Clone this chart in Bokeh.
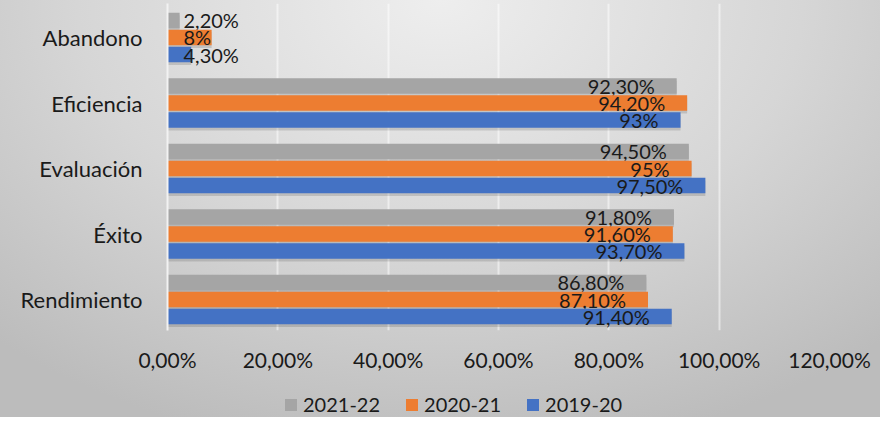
from bokeh.plotting import figure
from bokeh.layouts import column
from bokeh.models import ColumnDataSource, Range1d, FixedTicker, Legend, LegendItem
from bokeh.transform import dodge
from bokeh.core.properties import value
from bokeh.embed import file_html
from bokeh.resources import INLINE

# ---- data (bottom to top) ----
categories = ["Rendimiento", "Éxito", "Evaluación", "Eficiencia", "Abandono"]
v2019_20 = [91.4, 93.7, 97.5, 93.0, 4.3]
v2020_21 = [87.1, 91.6, 95.0, 94.2, 8.0]
v2021_22 = [86.8, 91.8, 94.5, 92.3, 2.2]
l2019_20 = ["91,40%", "93,70%", "97,50%", "93%", "4,30%"]
l2020_21 = ["87,10%", "91,60%", "95%", "94,20%", "8%"]
l2021_22 = ["86,80%", "91,80%", "94,50%", "92,30%", "2,20%"]
series_names = ["2021-22", "2020-21", "2019-20"]
series_colors = ["#a5a5a5", "#ed7d31", "#4472c4"]
x_ticks = [0, 20, 40, 60, 80, 100, 120]
x_tick_labels = ["0,00%", "20,00%", "40,00%", "60,00%", "80,00%", "100,00%", "120,00%"]

FONT = "Lato"
GRADIENT = "radial-gradient(ellipse 75% 110% at 50% 0%, #eeeeee 0%, #d6d6d6 55%, #bcbcbc 100%)"

p = figure(width=880, height=375, x_range=Range1d(0, 120), y_range=Range1d(-0.473, 4.519),
           output_backend="svg", toolbar_location=None,
           min_border_left=167, min_border_right=51, min_border_top=3, min_border_bottom=45)
p.background_fill_alpha = 0
p.border_fill_alpha = 0
p.outline_line_color = None

pos = list(range(len(categories)))
offsets = [0.26, 0.0, -0.26]
series = [
    (v2021_22, l2021_22),
    (v2020_21, l2020_21),
    (v2019_20, l2019_20),
]

for (vals, labs), col, off in zip(series, series_colors, offsets):
    src = ColumnDataSource(dict(pos=pos, val=vals, lbl=labs))
    p.hbar(y=dodge("pos", off - 0.04, range=p.y_range), right="val", left=0, height=0.237,
           source=src, fill_color="black", fill_alpha=0.13, line_color=None)
    p.hbar(y=dodge("pos", off, range=p.y_range), right="val", left=0, height=0.237,
           source=src, fill_color=col, line_color=None)
    big = [i for i, v in enumerate(vals) if v >= 20]
    small = [i for i, v in enumerate(vals) if v < 20]
    sb = ColumnDataSource(dict(pos=[pos[i] for i in big], val=[vals[i] for i in big], lbl=[labs[i] for i in big]))
    ss = ColumnDataSource(dict(pos=[pos[i] for i in small], val=[0 for i in small], lbl=[labs[i] for i in small]))
    p.text(x="val", y=dodge("pos", off, range=p.y_range), text="lbl", source=sb,
           text_align="right", text_baseline="middle", x_offset=-22,
           text_font=value(FONT), text_font_size="20px", text_color="#1a1a1a")
    p.text(x="val", y=dodge("pos", off, range=p.y_range), text="lbl", source=ss,
           text_align="left", text_baseline="middle", x_offset=16,
           text_font=value(FONT), text_font_size="20px", text_color="#1a1a1a")

# axes
p.yaxis.ticker = FixedTicker(ticks=pos)
p.yaxis.major_label_overrides = {i: c for i, c in zip(pos, categories)}
p.yaxis.major_tick_line_color = None
p.yaxis.minor_tick_line_color = None
p.yaxis.axis_line_color = "#f2f2f2"
p.yaxis.axis_line_width = 2
p.yaxis.major_label_standoff = 19
p.yaxis.major_label_text_font = FONT
p.yaxis.major_label_text_font_size = "22px"
p.yaxis.major_label_text_color = "#1a1a1a"

p.xaxis.ticker = FixedTicker(ticks=x_ticks)
p.xaxis.major_label_overrides = {t: l for t, l in zip(x_ticks, x_tick_labels)}
p.xaxis.major_tick_line_color = None
p.xaxis.minor_tick_line_color = None
p.xaxis.axis_line_color = None
p.xaxis.major_label_standoff = 10
p.xaxis.major_label_text_font = FONT
p.xaxis.major_label_text_font_size = "21px"
p.xaxis.major_label_text_color = "#1a1a1a"

p.ygrid.grid_line_color = None
p.xgrid.grid_line_color = "white"
p.xgrid.grid_line_alpha = 0.5
p.xgrid.grid_line_width = 2

# legend strip
lg = figure(width=880, height=42, x_range=Range1d(0, 1), y_range=Range1d(0, 1),
            output_backend="svg", toolbar_location=None,
            min_border_left=0, min_border_right=0, min_border_top=0, min_border_bottom=0)
lg.axis.visible = False
lg.grid.visible = False
lg.background_fill_alpha = 0
lg.border_fill_alpha = 0
lg.outline_line_color = None
items = []
for name, col in zip(series_names, series_colors):
    r = lg.quad(left=[-5], right=[-4], bottom=[-5], top=[-4], fill_color=col, line_color=None)
    items.append(LegendItem(label=name, renderers=[r]))
legend = Legend(items=items, orientation="horizontal", location=(116, 1),
                label_text_font=FONT, label_text_font_size="20px", label_text_color="#1a1a1a",
                glyph_width=15, glyph_height=15, label_standoff=5, spacing=24,
                background_fill_alpha=0, border_line_alpha=0, margin=0, padding=0)
lg.add_layout(legend, "center")

layout = column(p, lg, spacing=0, styles={"background": GRADIENT})
open("out.html", "w").write(file_html(layout, INLINE))
